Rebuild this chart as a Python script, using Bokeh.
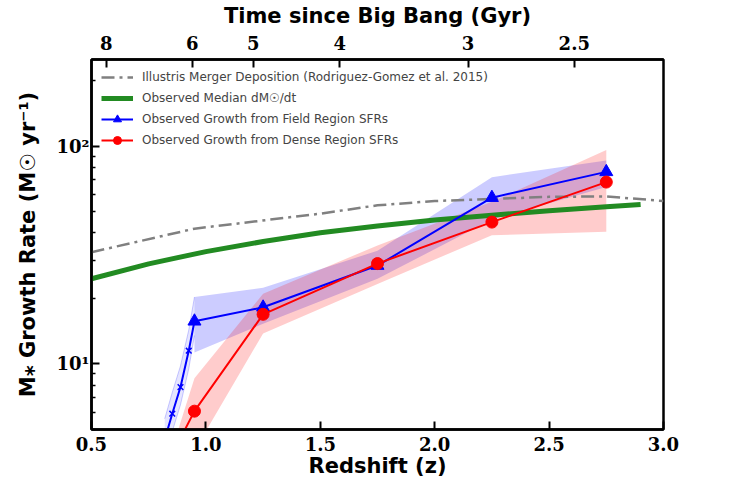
from bokeh.plotting import figure
from bokeh.models import LinearAxis, FixedTicker, Legend, LegendItem, PrintfTickFormatter
from bokeh.embed import file_html
from bokeh.resources import INLINE

# ---- data ----
z_main = [0.95, 1.25, 1.75, 2.25, 2.75]
field_rate = [15.7, 18.2, 28.3, 58.0, 76.2]
field_hi = [20.3, 22.4, 33.1, 72.0, 86.0]
field_lo = [11.3, 15.3, 24.6, 46.0, 65.0]

field_tail_z = [0.82, 0.853, 0.889, 0.925, 0.95]
field_tail_rate = [4.5, 5.91, 7.83, 11.5, 15.7]
field_tail_hi = [5.6, 7.4, 9.8, 14.3, 20.3]
field_tail_lo = [3.9, 4.9, 6.5, 9.5, 13.5]

dense_z = [0.85, 0.95, 1.25, 1.75, 2.25, 2.75]
dense_rate = [3.8, 6.07, 16.9, 28.9, 44.8, 68.4]
dense_hi = [4.0, 8.6, 21.0, 35.0, 55.5, 96.0]
dense_lo = [2.5, 4.0, 13.8, 23.3, 39.0, 40.5]

illustris_z = [0.5, 0.95, 1.5, 1.75, 2.0, 2.5, 2.75, 3.0]
illustris_rate = [32.6, 41.8, 49.0, 53.5, 56.0, 58.5, 58.8, 56.0]

median_z = [0.5, 0.75, 1.0, 1.25, 1.5, 1.75, 2.0, 2.25, 2.5, 2.75, 2.9]
median_rate = [24.6, 28.8, 32.8, 36.5, 40.0, 43.0, 45.8, 48.2, 50.5, 52.7, 54.0]

age_ticks_z = [0.564, 0.940, 1.207, 1.585, 2.146, 2.61]
age_labels = ["8", "6", "5", "4", "3", "2.5"]

y_major = [10, 100]
y_major_labels = ["10¹", "10²"]
y_minor = [5, 6, 7, 8, 9, 20, 30, 40, 50, 60, 70, 80, 90, 200]
x_ticks = [0.5, 1.0, 1.5, 2.0, 2.5, 3.0]

SERIF = "DejaVu Serif"
SANS = "DejaVu Sans"

p = figure(frame_width=572, frame_height=370, x_range=(0.5, 3.0), y_range=(5, 250),
           y_axis_type="log", output_backend="svg", toolbar_location=None,
           min_border_left=91, min_border_top=59, min_border_bottom=50, min_border_right=40)
p.xgrid.visible = False
p.ygrid.visible = False
p.outline_line_color = "black"
p.outline_line_width = 2.5
p.background_fill_color = "white"
p.border_fill_color = "white"

def style_axis(ax, label_size="18px"):
    ax.axis_line_width = 2.5
    ax.axis_line_color = "black"
    ax.major_tick_in = 8
    ax.major_tick_out = 0
    ax.major_tick_line_width = 2
    ax.minor_tick_in = 4
    ax.minor_tick_out = 0
    ax.minor_tick_line_width = 1.5
    ax.major_label_text_font = SERIF
    ax.major_label_text_font_style = "bold"
    ax.major_label_text_font_size = label_size
    ax.major_label_text_color = "black"
    ax.axis_label_text_font = SANS
    ax.axis_label_text_font_style = "bold"
    ax.axis_label_text_font_size = "21px"
    ax.axis_label_text_color = "black"

# bottom axis
xa = p.xaxis[0]
xa.ticker = FixedTicker(ticks=x_ticks)
xa.formatter = PrintfTickFormatter(format="%.1f")
xa.axis_label = "Redshift (z)"
style_axis(xa)
xa.major_label_standoff = 7
xa.axis_label_standoff = 0
xa.minor_tick_in = 0

# left axis
ya = p.yaxis[0]
ya.ticker = FixedTicker(ticks=y_major, minor_ticks=y_minor)
ya.major_label_overrides = {v: s for v, s in zip(y_major, y_major_labels)}
ya.axis_label = "M⁎ Growth Rate (M☉ yr⁻¹)"
style_axis(ya)
ya.major_label_standoff = 2
ya.axis_label_standoff = 14

# top axis (age)
ta = LinearAxis(ticker=FixedTicker(ticks=age_ticks_z),
                major_label_overrides={v: s for v, s in zip(age_ticks_z, age_labels)},
                axis_label="Time since Big Bang (Gyr)")
style_axis(ta)
ta.major_label_standoff = 10
ta.axis_label_standoff = 5
ta.minor_tick_in = 0
p.add_layout(ta, "above")

# bands
p.varea(x=z_main, y1=field_lo, y2=field_hi, fill_color="blue", fill_alpha=0.2)
p.varea(x=field_tail_z, y1=field_tail_lo, y2=field_tail_hi, fill_color="blue", fill_alpha=0.1)
p.line(field_tail_z, field_tail_hi, line_color="blue", line_alpha=0.2, line_width=1)
p.line(field_tail_z, field_tail_lo, line_color="blue", line_alpha=0.2, line_width=1)
p.varea(x=dense_z, y1=dense_lo, y2=dense_hi, fill_color="red", fill_alpha=0.2)

# model + median lines
r_ill = p.line(illustris_z, illustris_rate, line_color="gray", line_width=2.5,
               line_dash="13 5 3 5")
r_med = p.line(median_z, median_rate, line_color="forestgreen", line_width=5)

# field series
p.line(field_tail_z, field_tail_rate, line_color="blue", line_width=2)
p.scatter(field_tail_z[:-1], field_tail_rate[:-1], marker="x", size=8,
          line_color="blue", line_width=1.5)
r_fl = p.line(z_main, field_rate, line_color="blue", line_width=2)
r_fm = p.scatter(z_main, field_rate, marker="triangle", size=13, fill_color="blue",
                 line_color="blue")

# dense series
r_dl = p.line(dense_z, dense_rate, line_color="red", line_width=2)
r_dm = p.scatter(dense_z, dense_rate, marker="circle", size=12, fill_color="red",
                 line_color="red")

legend = Legend(items=[
    LegendItem(label="Illustris Merger Deposition (Rodriguez-Gomez et al. 2015)", renderers=[r_ill]),
    LegendItem(label="Observed Median dM☉/dt", renderers=[r_med]),
    LegendItem(label="Observed Growth from Field Region SFRs", renderers=[r_fl, r_fm]),
    LegendItem(label="Observed Growth from Dense Region SFRs", renderers=[r_dl, r_dm]),
], location=(2, 271))
legend.border_line_alpha = 0
legend.background_fill_alpha = 0
legend.label_text_font = SANS
legend.label_text_font_size = "12px"
legend.glyph_width = 32
legend.glyph_height = 20
legend.label_height = 20
legend.label_standoff = 9
legend.spacing = 1
legend.padding = 8
legend.margin = 0
p.add_layout(legend)

open("out.html", "w").write(file_html(p, INLINE))
